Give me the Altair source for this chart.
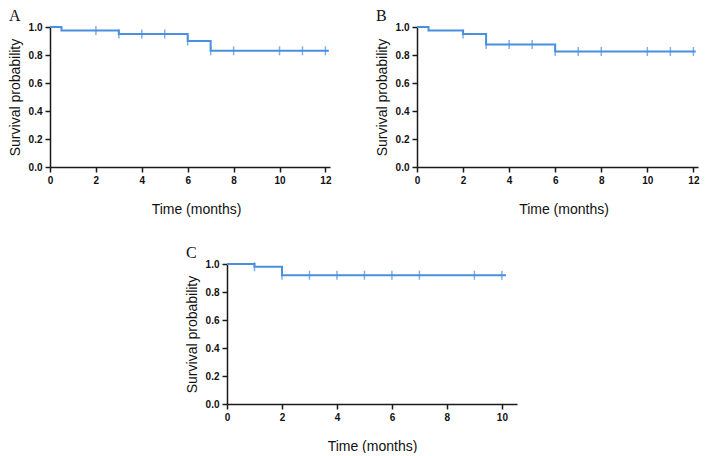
import altair as alt
import pandas as pd

# ---------------- data ----------------
# Panel A
a_time = [0, 0.5, 3, 6, 7, 12.15]
a_surv = [1.0, 0.975, 0.95, 0.90, 0.83, 0.83]
a_cens_time = [2, 3, 4, 5, 6, 7, 8, 10, 11, 12]
a_cens_surv = [0.975, 0.95, 0.95, 0.95, 0.90, 0.83, 0.83, 0.83, 0.83, 0.83]

# Panel B
b_time = [0, 0.5, 2, 3, 6, 12.1]
b_surv = [1.0, 0.975, 0.95, 0.875, 0.825, 0.825]
b_cens_time = [2, 3, 4, 5, 6, 7, 8, 10, 11, 12]
b_cens_surv = [0.95, 0.875, 0.875, 0.875, 0.825, 0.825, 0.825, 0.825, 0.825, 0.825]

# Panel C
c_time = [0, 1, 2, 10.15]
c_surv = [1.0, 0.98, 0.92, 0.92]
c_cens_time = [1, 2, 3, 4, 5, 6, 7, 9, 10]
c_cens_surv = [0.98, 0.92, 0.92, 0.92, 0.92, 0.92, 0.92, 0.92, 0.92]

y_ticks = [0.0, 0.2, 0.4, 0.6, 0.8, 1.0]
x_ticks_ab = [0, 2, 4, 6, 8, 10, 12]
x_ticks_c = [0, 2, 4, 6, 8, 10]

BLUE = "#4a8fe0"


def panel(label, times, surv, ct, cs, xmax, xticks, width, title_dx):
    step = pd.DataFrame({"t": times, "s": surv})
    cens = pd.DataFrame({"t": ct, "s": cs})
    x = alt.X(
        "t:Q",
        scale=alt.Scale(domain=[0, xmax], nice=False, zero=False),
        axis=alt.Axis(values=xticks, tickCount=len(xticks), format="d",
                      title="Time (months)", titleX=width / 2 + title_dx),
    )
    y = alt.Y(
        "s:Q",
        scale=alt.Scale(domain=[0, 1], nice=False),
        axis=alt.Axis(values=y_ticks, tickCount=len(y_ticks), format=".1f",
                      title="Survival probability"),
    )
    line = alt.Chart(step).mark_line(
        interpolate="step-after", color=BLUE, strokeWidth=2
    ).encode(x=x, y=y)
    ticks = alt.Chart(cens).mark_tick(
        orient="vertical", color=BLUE, size=9, thickness=1.5
    ).encode(x="t:Q", y="s:Q")
    return alt.layer(line, ticks).properties(
        width=width,
        height=140,
        title=alt.TitleParams(label, anchor="start", frame="group", dx=-41, offset=-2),
    )


pa = panel("A", a_time, a_surv, a_cens_time, a_cens_surv, 12.2, x_ticks_ab, 280, 6)
pb = panel("B", b_time, b_surv, b_cens_time, b_cens_surv, 12.2, x_ticks_ab, 281, 6)
pc = panel("C", c_time, c_surv, c_cens_time, c_cens_surv, 10.55, x_ticks_c, 290, 0)

spacer = alt.Chart(pd.DataFrame({"v": [0]})).mark_point(opacity=0, size=0).encode(
    x=alt.X("v:Q", axis=None), y=alt.Y("v:Q", axis=None)
).properties(width=168, height=140)

row1 = alt.hconcat(pa, pb, spacing=87, bounds="flush")
row2 = alt.hconcat(spacer, pc, spacing=9, bounds="flush")

chart = alt.vconcat(row1, row2, spacing=29, bounds="full").properties(
    padding=0
).configure_view(stroke=None).configure_axis(
    grid=False,
    domainColor="#1a1a1a",
    domainWidth=1.5,
    tickColor="#1a1a1a",
    tickWidth=1.5,
    tickSize=5,
    labelFont="Liberation Sans",
    labelFontWeight="bold",
    labelFontSize=10,
    labelColor="#111111",
    labelOverlap=False,
    labelFlush=False,
    titleFont="Liberation Sans",
    titleFontSize=14,
    titleFontWeight="normal",
    titleColor="#111111",
).configure_axisY(
    labelPadding=3, titlePadding=6
).configure_axisX(
    labelPadding=3, titlePadding=17
).configure_title(
    font="Liberation Serif", fontSize=16, fontWeight="normal", color="#111111"
)

chart.save("out.html", embed_options={"renderer": "svg", "actions": False})
